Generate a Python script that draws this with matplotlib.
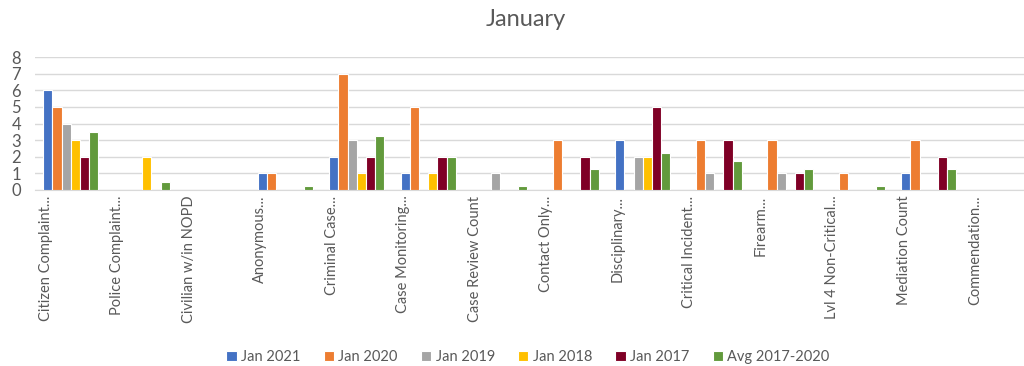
import matplotlib
matplotlib.use("Agg")
import matplotlib.pyplot as plt
import numpy as np

categories = ["Citizen Complaint...", "Police Complaint...", "Civilian w/in NOPD",
              "Anonymous...", "Criminal Case...", "Case Monitoring...",
              "Case Review Count", "Contact Only...", "Disciplinary...",
              "Critical Incident...", "Firearm...", "Lvl 4 Non-Critical...",
              "Mediation Count", "Commendation..."]
series_names = ["Jan 2021", "Jan 2020", "Jan 2019", "Jan 2018", "Jan 2017", "Avg 2017-2020"]
jan2021 = [6, 0, 0, 1, 2, 1, 0, 0, 3, 0, 0, 0, 1, 0]
jan2020 = [5, 0, 0, 1, 7, 5, 0, 3, 0, 3, 3, 1, 3, 0]
jan2019 = [4, 0, 0, 0, 3, 0, 1, 0, 2, 1, 1, 0, 0, 0]
jan2018 = [3, 2, 0, 0, 1, 1, 0, 0, 2, 0, 0, 0, 0, 0]
jan2017 = [2, 0, 0, 0, 2, 2, 0, 2, 5, 3, 1, 0, 2, 0]
avg1720 = [3.5, 0.5, 0, 0.25, 3.25, 2, 0.25, 1.25, 2.25, 1.75, 1.25, 0.25, 1.25, 0]
colors = ["#4472C4", "#ED7D31", "#A5A5A5", "#FFC000", "#7F0026", "#629A3C"]

series = [jan2021, jan2020, jan2019, jan2018, jan2017, avg1720]

plt.rcParams["font.family"] = ["Lato", "DejaVu Sans"]

fig = plt.figure(figsize=(10.24, 3.66), dpi=100)
ax = fig.add_axes([35/1024, 176/366, 1001/1024, 133/366])

x = np.arange(len(categories))
slot = 0.128
for i, (vals, name, c) in enumerate(zip(series, series_names, colors)):
    offs = (i - 2.5) * slot
    ax.bar(x + offs, vals, width=slot, color=c, edgecolor="white", linewidth=0.8,
           label=name, zorder=3)

ax.set_xlim(-0.5, len(categories) - 0.5)
ax.set_ylim(0, 8)
ax.set_yticks(range(0, 9))
ax.grid(axis="y", color="#D9D9D9", linewidth=1, zorder=0)
for s in ["top", "right", "left"]:
    ax.spines[s].set_visible(False)
ax.spines["bottom"].set_color("#D9D9D9")
ax.tick_params(axis="y", length=0, labelsize=12, labelcolor="#595959", pad=10)
ax.set_xticks(x - 0.35)
ax.set_xticklabels(categories, rotation=90, fontsize=10.5, color="#595959")
ax.tick_params(axis="x", length=0, pad=4)

fig.text(526/1024, 1 - 19/366, "January", ha="center", va="center", fontsize=17, color="#595959")

handles, labels = ax.get_legend_handles_labels()
fig.legend(handles, labels, loc="center", bbox_to_anchor=(528/1024, 9/366), ncol=6,
           frameon=False, fontsize=10.5, handlelength=0.7, handleheight=0.7,
           handletextpad=0.3, columnspacing=1.6, labelcolor="#595959")

fig.savefig("out.png", dpi=100)
